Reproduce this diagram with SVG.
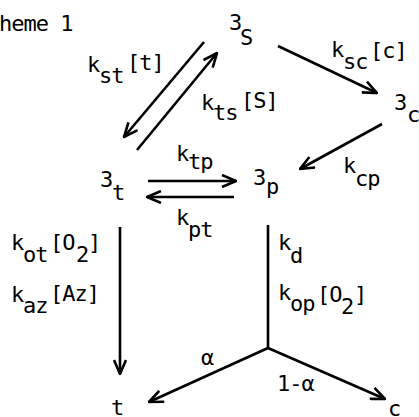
<svg xmlns="http://www.w3.org/2000/svg" width="419" height="417" viewBox="0 0 419 417">
<defs>
<style>
text{font-family:"DejaVu Sans Mono","Liberation Mono",monospace;font-size:22px;letter-spacing:-1px;fill:#000}
.c{stroke:#000;stroke-width:2.6;fill:none}
</style>
<marker id="ah" viewBox="0 0 16 14" refX="15" refY="7" markerWidth="16" markerHeight="14" markerUnits="userSpaceOnUse" orient="auto">
<path d="M1,1 L15,7 L1,13" fill="none" stroke="#000" stroke-width="2.6"/>
</marker>
</defs>
<rect width="419" height="417" fill="#fff"/>
<text x="-1" y="31">heme 1</text>
<g id="connectors">
<line class="c" x1="204" y1="42" x2="124" y2="137" marker-end="url(#ah)"/>
<line class="c" x1="137" y1="150" x2="217" y2="53" marker-end="url(#ah)"/>
<line class="c" x1="278" y1="46" x2="377" y2="93" marker-end="url(#ah)"/>
<line class="c" x1="382" y1="124" x2="300" y2="169" marker-end="url(#ah)"/>
<line class="c" x1="148" y1="181" x2="236" y2="181" marker-end="url(#ah)"/>
<line class="c" x1="234" y1="197" x2="147" y2="197" marker-end="url(#ah)"/>
<line class="c" x1="120" y1="227" x2="120" y2="374" marker-end="url(#ah)"/>
<line class="c" x1="268" y1="225" x2="268" y2="348"/>
<line class="c" x1="268" y1="348" x2="149" y2="402" marker-end="url(#ah)"/>
<line class="c" x1="268" y1="348" x2="385" y2="399" marker-end="url(#ah)"/>
</g>
<g id="node-3S"><text x="229" y="30">3</text><text x="240" y="45">S</text></g>
<g id="node-3c"><text x="394" y="110">3</text><text x="407" y="122">c</text></g>
<g id="node-3t"><text x="100" y="187">3</text><text x="112" y="200">t</text></g>
<g id="node-3p"><text x="253" y="185">3</text><text x="266" y="194">p</text></g>
<g id="node-t"><text x="111" y="415">t</text></g>
<g id="node-c"><text x="388" y="416">c</text></g>
<g id="labels">
<g id="l-kst"><text x="87" y="72">k</text><text x="99" y="83">st</text><text x="127" y="70">[t]</text></g>
<g id="l-kts"><text x="201" y="110">k</text><text x="213" y="120">ts</text><text x="241" y="108">[S]</text></g>
<g id="l-ksc"><text x="331" y="57">k</text><text x="343" y="69">sc</text><text x="370" y="58">[c]</text></g>
<g id="l-kcp"><text x="343" y="173">k</text><text x="355" y="186">cp</text></g>
<g id="l-ktp"><text x="176" y="161">k</text><text x="188" y="169">tp</text></g>
<g id="l-kpt"><text x="176" y="225">k</text><text x="188" y="237">pt</text></g>
<g id="l-kot"><text x="11" y="250">k</text><text x="23" y="262">ot</text><text x="50" y="250">[O</text><text x="76" y="262">2</text><text x="88" y="250">]</text></g>
<g id="l-kaz"><text x="11" y="302">k</text><text x="23" y="313">az</text><text x="50" y="301">[Az]</text></g>
<g id="l-kd"><text x="278" y="250">k</text><text x="290" y="263">d</text></g>
<g id="l-kop"><text x="278" y="300">k</text><text x="290" y="311">op</text><text x="317" y="302">[O</text><text x="341" y="314">2</text><text x="354" y="302">]</text></g>
<g id="l-alpha"><text x="201" y="365">α</text></g>
<g id="l-1alpha"><text x="277" y="391">1-α</text></g>
</g>
</svg>
